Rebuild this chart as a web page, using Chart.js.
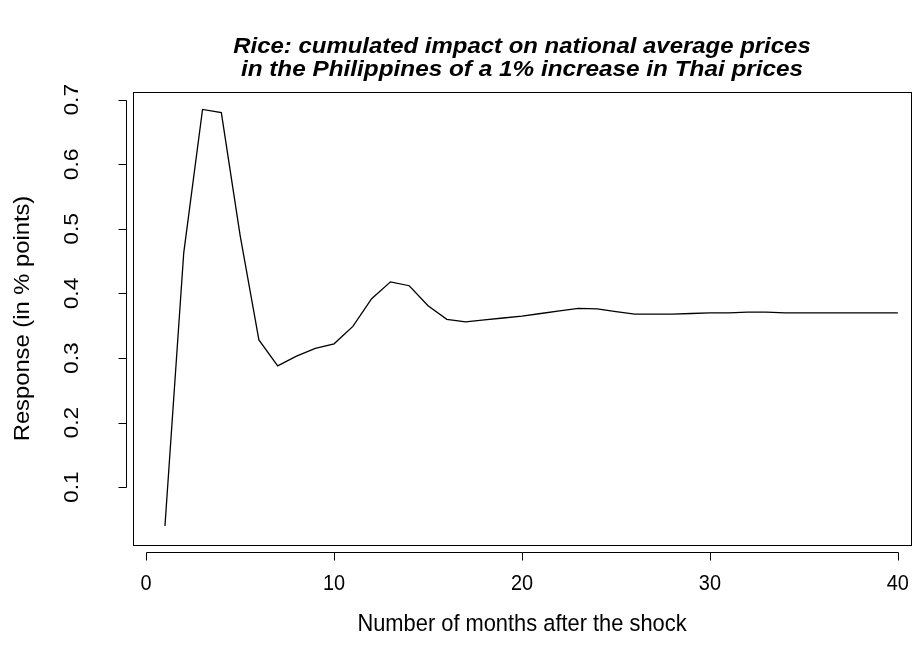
<!DOCTYPE html>
<html lang="en">
<head>
  <meta charset="UTF-8" />
  <title>Rice: cumulated impact</title>
  <script src="https://cdn.jsdelivr.net/npm/chart.js"></script>
  <style>
    html, body { margin: 0; padding: 0; background: #fff; }
    #wrap { width: 916px; height: 660px; }
  </style>
</head>
<body>
  <div id="wrap"><canvas id="irfChart" width="916" height="660"></canvas></div>

  <script>
    // months after the shock and cumulated response
    const months = [1,2,3,4,5,6,7,8,9,10,11,12,13,14,15,16,17,18,19,20,
                    21,22,23,24,25,26,27,28,29,30,31,32,33,34,35,36,37,38,39,40];
    const response = [0.040, 0.463, 0.685, 0.680, 0.490, 0.328, 0.288, 0.303, 0.315, 0.322,
                      0.349, 0.392, 0.418, 0.412, 0.381, 0.360, 0.356, 0.359, 0.362, 0.365,
                      0.369, 0.373, 0.377, 0.376, 0.372, 0.368, 0.368, 0.368, 0.369, 0.370,
                      0.370, 0.371, 0.371, 0.370, 0.370, 0.370, 0.370, 0.370, 0.370, 0.370];
    const xTicks = [0, 10, 20, 30, 40];
    const yTicks = [0.1, 0.2, 0.3, 0.4, 0.5, 0.6, 0.7];

    const titleLines = ['Rice: cumulated impact on national average prices',
                        'in the Philippines of a 1% increase in Thai prices'];
    const xTitle = 'Number of months after the shock';
    const yTitle = 'Response (in % points)';

    const FONT = '"Liberation Sans", Arial, sans-serif';

    // text drawn centred at (x, y), stretched like the source picture
    function stretchedText(ctx, txt, x, y, font, sx, sy, rotate) {
      ctx.save();
      ctx.translate(x, y);
      if (rotate) ctx.rotate(-Math.PI / 2);
      ctx.scale(sx, sy);
      ctx.font = font;
      ctx.textAlign = 'center';
      ctx.textBaseline = 'middle';
      ctx.fillText(txt, 0, 0);
      ctx.restore();
    }

    // R style box, axes, ticks and labels
    const rAxes = {
      id: 'rAxes',
      afterDraw(chart) {
        const ctx = chart.ctx;
        const a = chart.chartArea;
        const xs = chart.scales.x, ys = chart.scales.y;
        const cx = (a.left + a.right) / 2;
        ctx.save();
        ctx.strokeStyle = '#000';
        ctx.fillStyle = '#000';
        ctx.lineWidth = 1;

        // box
        ctx.strokeRect(Math.round(a.left) + 0.5, Math.round(a.top) + 0.5,
                       Math.round(a.right - a.left), Math.round(a.bottom - a.top));

        // x axis
        const xAxisY = a.bottom + 7.5;
        const x0 = Math.round(xs.getPixelForValue(xTicks[0])) + 0.5;
        const x1 = Math.round(xs.getPixelForValue(xTicks[xTicks.length - 1])) + 0.5;
        ctx.beginPath();
        ctx.moveTo(x0, xAxisY); ctx.lineTo(x1, xAxisY);
        xTicks.forEach(t => {
          const px = Math.round(xs.getPixelForValue(t)) + 0.5;
          ctx.moveTo(px, xAxisY); ctx.lineTo(px, xAxisY + 8);
        });
        ctx.stroke();
        xTicks.forEach(t => {
          stretchedText(ctx, String(t), xs.getPixelForValue(t), 584, '19px ' + FONT, 1.05, 1.2, false);
        });
        stretchedText(ctx, xTitle, cx, 624, '19px ' + FONT, 1.15, 1.25, false);

        // y axis
        const yAxisX = a.left - 6.5;
        const y0 = Math.round(ys.getPixelForValue(yTicks[0])) + 0.5;
        const y1 = Math.round(ys.getPixelForValue(yTicks[yTicks.length - 1])) + 0.5;
        ctx.beginPath();
        ctx.moveTo(yAxisX, y0); ctx.lineTo(yAxisX, y1);
        yTicks.forEach(t => {
          const py = Math.round(ys.getPixelForValue(t)) + 0.5;
          ctx.moveTo(yAxisX, py); ctx.lineTo(yAxisX - 8, py);
        });
        ctx.stroke();
        yTicks.forEach(t => {
          stretchedText(ctx, t.toFixed(1), 73, ys.getPixelForValue(t), '19px ' + FONT, 1.2, 1.05, true);
        });
        stretchedText(ctx, yTitle, 23, (a.top + a.bottom) / 2, '19px ' + FONT, 1.25, 1.15, true);

        // title
        const tf = 'italic bold 19px ' + FONT;
        stretchedText(ctx, titleLines[0], cx, 47, tf, 1.26, 1.15, false);
        stretchedText(ctx, titleLines[1], cx, 70, tf, 1.28, 1.15, false);
        ctx.restore();
      }
    };

    new Chart(document.getElementById('irfChart').getContext('2d'), {
      type: 'line',
      data: {
        datasets: [{
          data: months.map((m, i) => ({ x: m, y: response[i] })),
          borderColor: '#000',
          borderWidth: 1.3,
          pointRadius: 0,
          tension: 0,
          fill: false
        }]
      },
      options: {
        responsive: false,
        animation: false,
        events: [],
        layout: { padding: { left: 133, top: 92, right: 5, bottom: 115 } },
        plugins: { legend: { display: false }, tooltip: { enabled: false } },
        scales: {
          x: { type: 'linear', min: -0.7, max: 40.7, display: false },
          y: { type: 'linear', min: 0.0105, max: 0.712, display: false }
        }
      },
      plugins: [rAxes]
    });
  </script>
</body>
</html>
